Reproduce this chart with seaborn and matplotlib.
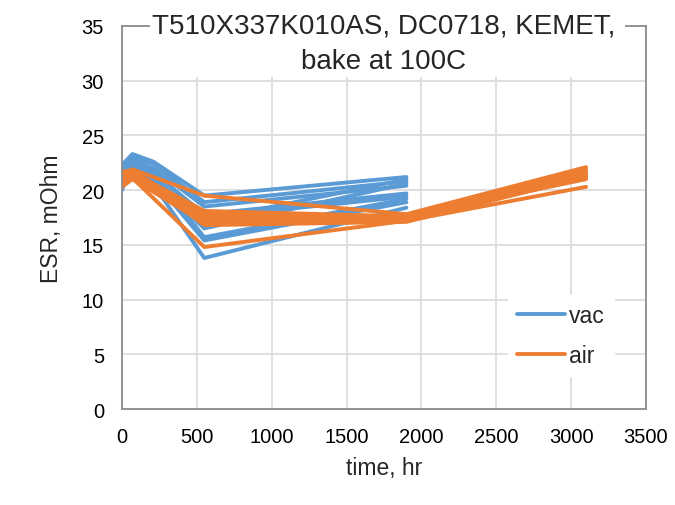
import pandas as pd
import matplotlib
matplotlib.use("Agg")
import matplotlib.pyplot as plt
import seaborn as sns
from matplotlib.patches import Rectangle

# time points, hr
vac_time = [0, 70, 210, 550, 1900]
air_time = [0, 70, 550, 1900, 3100]

# ESR, mOhm, one list per part
vac_esr = [
    [22.3, 23.3, 22.6, 19.5, 21.2],
    [21.5, 23.0, 22.4, 18.9, 20.8],
    [21.0, 22.8, 22.0, 18.5, 20.4],
    [20.0, 22.5, 21.6, 17.8, 19.7],
    [21.8, 22.9, 21.8, 17.5, 19.4],
    [20.5, 22.2, 21.2, 17.2, 21.0],
    [22.0, 22.6, 21.5, 15.7, 19.2],
    [21.2, 22.0, 20.9, 15.4, 18.9],
    [20.8, 21.8, 20.5, 13.8, 18.4],
    [21.6, 22.4, 21.0, 16.5, 20.6],
]
air_esr = [
    [21.5, 21.9, 19.5, 17.8, 22.1],
    [21.0, 21.6, 18.1, 17.6, 21.9],
    [20.5, 21.4, 17.9, 17.5, 21.7],
    [21.7, 21.8, 17.6, 17.4, 21.6],
    [20.8, 21.2, 17.4, 17.3, 21.5],
    [21.2, 21.5, 17.2, 17.4, 21.4],
    [20.3, 21.0, 17.0, 17.2, 21.3],
    [21.4, 21.7, 16.8, 17.1, 21.2],
    [20.9, 21.3, 17.5, 17.6, 21.0],
    [20.6, 21.1, 14.8, 17.2, 20.3],
]

rows = []
for i, s in enumerate(vac_esr):
    for t, v in zip(vac_time, s):
        rows.append({"time": t, "esr": v, "group": "vac", "unit": f"v{i}"})
for i, s in enumerate(air_esr):
    for t, v in zip(air_time, s):
        rows.append({"time": t, "esr": v, "group": "air", "unit": f"a{i}"})
df = pd.DataFrame(rows)

sns.set_style("white")
plt.rcParams["font.family"] = ["Liberation Sans", "DejaVu Sans"]

fig = plt.figure(figsize=(6.75, 5.06), dpi=100)
ax = fig.add_axes([0.1807, 0.1897, 0.7763, 0.757])

sns.lineplot(data=df, x="time", y="esr", hue="group", units="unit",
             estimator=None, sort=False, lw=2.8, ax=ax,
             palette={"vac": "#5B9BD5", "air": "#ED7D31"})

ax.set_xlim(0, 3500)
ax.set_ylim(0, 35)
ax.set_xticks(range(0, 3501, 500))
ax.set_yticks(range(0, 36, 5))
ax.grid(True, color="#D9D9D9", lw=1.2)
ax.set_axisbelow(True)
for sp in ax.spines.values():
    sp.set_color("#8C8C8C")
    sp.set_linewidth(1.3)
ax.tick_params(axis="x", length=0, pad=13, labelsize=14.5, colors="black")
ax.tick_params(axis="y", length=0, pad=13, labelsize=14.5, colors="black")
ax.set_xlabel("time, hr", fontsize=16.5, labelpad=7)
ax.set_ylabel("ESR, mOhm", fontsize=16.5, labelpad=13)

# white title box over the top of the plot area
ax.add_patch(Rectangle((0.053, 0.867), 0.907, 0.15, transform=ax.transAxes,
                       facecolor="white", edgecolor="none", zorder=3,
                       clip_on=False))
ax.text(0.5, 1.0, "T510X337K010AS, DC0718, KEMET,", transform=ax.transAxes,
        ha="center", va="center", fontsize=20, zorder=4)
ax.text(0.5, 0.908, "bake at 100C", transform=ax.transAxes,
        ha="center", va="center", fontsize=20, zorder=4)

leg = ax.legend(loc="lower right", bbox_to_anchor=(0.96, 0.055), fontsize=16.5,
                frameon=True, facecolor="white", edgecolor="white",
                framealpha=1, handlelength=2.1, labelspacing=0.75,
                handletextpad=0.15, borderpad=0.4)
for h in leg.get_lines():
    h.set_linewidth(2.8)

fig.savefig("out.png", dpi=100)
